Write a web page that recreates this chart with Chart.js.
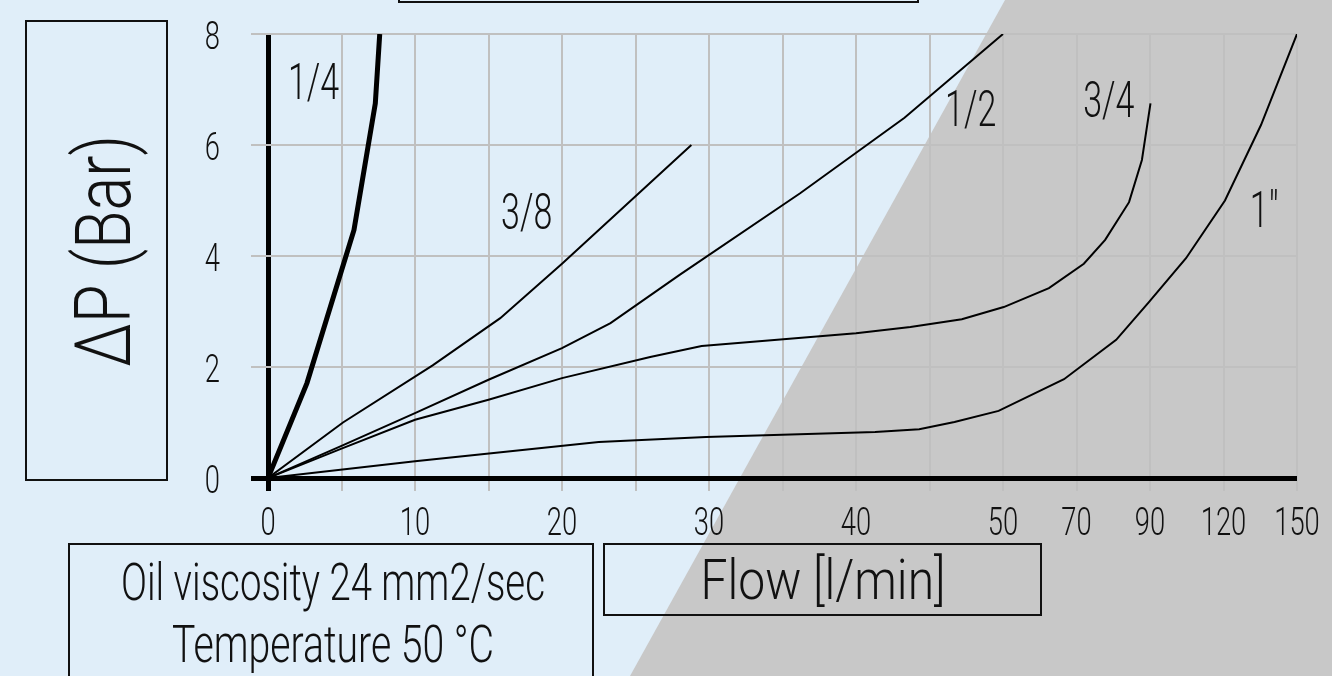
<!DOCTYPE html>
<html>
<head>
<meta charset="utf-8">
<title>Pressure drop vs flow</title>
<script src="https://cdn.jsdelivr.net/npm/chart.js@4.4.1/dist/chart.umd.min.js"></script>
<style>
  html, body { margin: 0; padding: 0; background: #e0eef9; overflow: hidden; }
  canvas { display: block; }
</style>
</head>
<body>
<canvas id="dpChart" width="1332" height="676"></canvas>
<script>
// x axis: one entry per vertical grid line, flow in l/min
var flowGrid    = [0, 5, 10, 15, 20, 25, 30, 35, 40, 45, 50, 70, 90, 120, 150];
var xTickLabels = ['0', '', '10', '', '20', '', '30', '', '40', '', '50', '70', '90', '120', '150'];
var yTickLabels = ['0', '2', '4', '6', '8'];

// curves, flow [l/min] and pressure drop [bar]
var q14Flow = [0, 2.65, 5.85, 7.3, 7.6];
var q14Dp   = [0, 1.71, 4.47, 6.75, 8.0];

var q38Flow = [0, 5.1, 11.2, 15.8, 20, 28.8];
var q38Dp   = [0, 1.0, 2.03, 2.88, 3.86, 6.0];

var q12Flow = [0, 5, 10, 15, 20, 23.3, 28, 36.2, 43.3, 50];
var q12Dp   = [0, 0.58, 1.17, 1.77, 2.34, 2.79, 3.66, 5.13, 6.49, 8.0];

var q34Flow = [0, 5, 10, 15, 20, 26, 29.5, 40, 43.7, 47.2, 50.2, 62.5, 72, 77.8, 84.3, 87.8, 90.2];
var q34Dp   = [0, 0.53, 1.05, 1.41, 1.80, 2.18, 2.38, 2.61, 2.72, 2.86, 3.08, 3.42, 3.86, 4.29, 4.97, 5.73, 6.75];

var q1Flow = [0, 10, 22.5, 29.8, 41.3, 44.3, 46.7, 49.7, 66.6, 80.8, 89.7, 104.7, 120.6, 135.3, 150];
var q1Dp   = [0, 0.3, 0.65, 0.74, 0.83, 0.88, 1.01, 1.21, 1.78, 2.49, 3.17, 3.96, 5.0, 6.36, 8.0];

// size labels written next to the curves
var sizeNames = ['1/4', '3/8', '1/2', '3/4', '1"'];
var sizeFlow  = [3.1, 17.6, 47.8, 78.8, 136.6];
var sizeDp    = [7.15, 4.81, 6.67, 6.83, 4.85];

var fontFam = "Roboto, 'DejaVu Sans Condensed', sans-serif";

// flow value -> position on the grid axis (0..14)
function toPos(flow) {
    for (var i = 0; i < flowGrid.length - 1; i++) {
        if (flow <= flowGrid[i + 1]) {
            return i + (flow - flowGrid[i]) / (flowGrid[i + 1] - flowGrid[i]);
        }
    }
    return flowGrid.length - 1;
}

function pts(fl, dp) {
    return fl.map(function(f, i){
        return { x: toPos(f), y: dp[i] };
    });
}

function curve(fl, dp, w) {
    return {
        data: pts(fl, dp),
        borderColor: '#000',
        borderWidth: w,
        pointRadius: 0,
        tension: 0,
        fill: false
    };
}

// condensed text: sx = horizontal squeeze, or fit to width w
function drawText(ctx, str, x, by, size, sx, align, w) {
    ctx.save();
    ctx.font = '300 ' + size + 'px ' + fontFam;
    if (w) sx = w / ctx.measureText(str).width;
    ctx.translate(x, by);
    ctx.scale(sx, 1);
    ctx.textAlign = align || 'center';
    ctx.textBaseline = 'alphabetic';
    ctx.fillStyle = '#111';
    ctx.fillText(str, 0, 0);
    ctx.restore();
}

var backdrop = {
    id: 'backdrop',
    beforeDraw: function(chart) {
        var ctx = chart.ctx;
        ctx.save();
        ctx.fillStyle = '#e0eef9';
        ctx.fillRect(0, 0, chart.width, chart.height);
        ctx.fillStyle = '#c8c8c8';
        ctx.beginPath();
        ctx.moveTo(1005, 0);
        ctx.lineTo(chart.width, 0);
        ctx.lineTo(chart.width, chart.height);
        ctx.lineTo(630, chart.height);
        ctx.closePath();
        ctx.fill();
        ctx.restore();
    }
};

var frames = {
    id: 'frames',
    afterDraw: function(chart) {
        var ctx = chart.ctx;
        var xs = chart.scales.x, ys = chart.scales.y;

        ctx.save();
        ctx.strokeStyle = '#111';
        ctx.lineWidth = 2;
        ctx.strokeRect(26, 21, 141, 459);
        ctx.strokeRect(399, -10, 519, 12);
        ctx.strokeRect(69, 544, 524, 150);
        ctx.strokeRect(604, 544, 437, 71);
        ctx.restore();

        // rotated y title
        ctx.save();
        ctx.translate(130, 251);
        ctx.rotate(-Math.PI / 2);
        drawText(ctx, '\u0394P (Bar)', 0, 0, 77, 1, 'center', 232);
        ctx.restore();

        drawText(ctx, 'Oil viscosity 24 mm2/sec', 333, 600, 51, 1, 'center', 424);
        drawText(ctx, 'Temperature 50 \u00b0C', 333, 662, 51, 1, 'center', 322);
        drawText(ctx, 'Flow [l/min]', 823, 599, 55, 1, 'center', 245);

        // tick labels, placed by the scales
        xs.ticks.forEach(function(t){
            var lab = xTickLabels[t.value];
            if (lab) drawText(ctx, lab, xs.getPixelForValue(t.value), 535, 38, 0.72, 'center');
        });
        ys.ticks.forEach(function(t){
            var lab = yTickLabels[t.value / 2];
            if (lab) drawText(ctx, lab, 220, ys.getPixelForValue(t.value) + 15, 38, 0.72, 'right');
        });

        for (var i = 0; i < sizeNames.length; i++) {
            var px = xs.getPixelForValue(toPos(sizeFlow[i]));
            var py = ys.getPixelForValue(sizeDp[i]);
            drawText(ctx, sizeNames[i], px, py + 18, 50, 0.68, 'center');
        }
    }
};

function gridColor(c) {
    return c.tick && c.tick.value === 0 ? '#000' : '#c0c0c0';
}
function gridWidth(c) {
    return c.tick && c.tick.value === 0 ? 5 : 2;
}

var dpCanvas = document.getElementById('dpChart').getContext('2d');

new Chart(dpCanvas, {
    type: 'line',
    data: {
        datasets: [
            curve(q1Flow, q1Dp, 2),
            curve(q34Flow, q34Dp, 2),
            curve(q12Flow, q12Dp, 2),
            curve(q38Flow, q38Dp, 2),
            curve(q14Flow, q14Dp, 5)
        ]
    },
    options: {
        responsive: false,
        animation: false,
        layout: { padding: { left: 0, right: 35, top: 34, bottom: 0 } },
        plugins: {
            legend: { display: false },
            tooltip: { enabled: false }
        },
        scales: {
            x: {
                type: 'linear',
                min: 0,
                max: flowGrid.length - 1,
                afterFit: function(s) { s.height = 198; },
                border: { display: false },
                grid: { color: gridColor, lineWidth: gridWidth, tickLength: 13 },
                ticks: { stepSize: 1, autoSkip: false, display: false }
            },
            y: {
                min: 0,
                max: 8,
                afterFit: function(s) { s.width = 268; },
                border: { display: false },
                grid: { color: gridColor, lineWidth: gridWidth, tickLength: 17 },
                ticks: { stepSize: 2, display: false }
            }
        }
    },
    plugins: [backdrop, frames]
});
</script>
</body>
</html>
